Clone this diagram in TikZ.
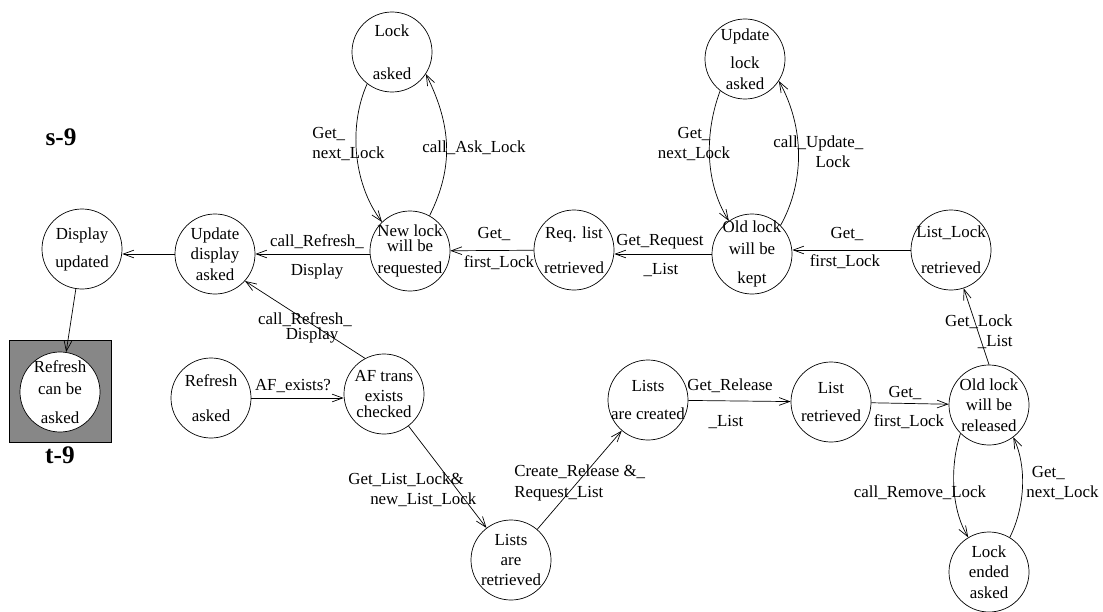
\documentclass[tikz,border=0pt]{standalone}
\usepackage{fontspec}
\setmainfont{Liberation Serif}
\usetikzlibrary{arrows.meta}
\begin{document}
\begin{tikzpicture}[x=0.025cm, y=-0.025cm, line width=0.5pt,
    font=\fontsize{12}{14.4}\selectfont,
    >={Straight Barb[length=7.5pt,width=5.5pt]},
    state/.style={circle, draw, minimum size=2cm, inner sep=-8pt, align=center},
    lbl/.style={inner sep=0pt, align=left},
    tag/.style={inner sep=0pt, font=\fontsize{18}{20}\selectfont\bfseries}]
\useasboundingbox (0,0) rectangle (1103,611);

% states
\node[state] (disp) at (82,249) {Display\\[5.5pt]updated};
\node[state] (upd) at (215,254) {Update\\display\\asked};
\node[state] (newl) at (410,251) {New lock\\[-3.5pt]will be\\[1.5pt]requested};
\node[state] (locka) at (392,52) {Lock\\[16pt]asked};
\node[state] (reql) at (574,250) {Req. list\\[10.5pt]retrieved};
\node[state] (oldk) at (752,254) {Old lock\\[1pt]will be\\[6pt]kept};
\node[state] (upda) at (745,59) {Update\\[6pt]lock\\asked};
\node[state] (listl) at (951,250) {List\_Lock\\[11pt]retrieved};
\node[draw, fill=black!47, minimum size=2.55cm] (tbox) at (60,391) {};
\node[state, fill=white] (refc) at (60,392) {Refresh\\[1pt]can be\\[6pt]asked};
\node[state] (refr) at (211,398) {Refresh\\[11pt]asked};
\node[state] (aft) at (384,394) {AF trans\\exists\\[-3.5pt]checked};
\node[state] (lret) at (511,560) {Lists\\are\\retrieved};
\node[state] (lcre) at (648,400) {Lists\\[6pt]are created};
\node[state] (lis) at (831,402) {List\\[6pt]retrieved};
\node[state] (oldr) at (989,405) {Old lock\\will be\\released};
\node[state] (locke) at (989,572) {Lock\\ended\\asked};

\node[tag] (s9) at (61,137) {s-9};
\node[tag] (t9) at (60,455) {t-9};

% transitions
\draw[->] (upd.west) -- (upd.west -| disp.east);
\draw[->] (newl.west |- upd.east) -- (upd.east);
\draw[->] (reql) -- (newl);
\draw[->] (oldk.west) -- (oldk.west -| reql.east);
\draw[->] (listl.west) -- (listl.west -| oldk.east);
\draw[->] (disp) -- (refc);
\draw[->] (aft.118) -- (upd.-42);
\draw[->] (refr.east) -- (refr.east -| aft.west);
\draw[->] (aft) -- (lret);
\draw[->] (lret) -- (lcre);
\draw[->] (lcre) -- (lis);
\draw[->] (lis) -- (oldr);
\draw[->] (oldr.north) -- (listl);
\draw[->] (newl.61) .. controls +(25,-50) and +(25,50) .. (locka.-33);
\draw[->] (locka.-128) .. controls +(-18,40) and +(-30,-40) .. (newl.134);
\draw[->] (oldk.45) .. controls +(25,-45) and +(25,45) .. (upda.-33);
\draw[->] (upda.-128) .. controls +(-15,40) and +(-25,-40) .. (oldk.125);
\draw[->] (oldr.-135) .. controls +(-10,30) and +(-18,-30) .. (locke.121);
\draw[->] (locke.59) .. controls +(15,-30) and +(14,30) .. (oldr.-53);

% labels
\node[lbl] (l1) at (317,242) {call\_Refresh\_};
\node[lbl] (l2) at (317,271) {Display};
\node[lbl] (l3) at (494,234) {Get\_};
\node[lbl] (l4) at (499,263) {first\_Lock};
\node[lbl] (l5) at (660,242) {Get\_Request};
\node[lbl] (l6) at (661,270) {\_List};
\node[lbl] (l7) at (847,234) {Get\_};
\node[lbl] (l8) at (845,262) {first\_Lock};
\node[lbl] (l9) at (293,386) {AF\_exists?};
\node[lbl] (l10) at (730,386) {Get\_Release};
\node[lbl] (l11) at (726,422) {\_List};
\node[lbl] (l12) at (905,393) {Get\_};
\node[lbl] (l13) at (909,422) {first\_Lock};
\node[lbl, anchor=west] (l14) at (312,144) {Get\_\\next\_Lock};
\node[lbl] (l15) at (474,148) {call\_Ask\_Lock};
\node[lbl, anchor=west] (l16) at (773,152) {call\_Update\_\\\hspace*{30pt}Lock};
\node[lbl, align=center] (l17) at (694,144) {Get\_\\next\_Lock};
\node[lbl, align=right, anchor=east] (l18) at (1013,332) {Get\_Lock\\\_List};
\node[lbl] (l19) at (920,493) {call\_Remove\_Lock};
\node[lbl, anchor=west] (l20) at (1026,483) {\hspace*{4pt}Get\_\\next\_Lock};
\node[lbl, anchor=west] (l21) at (348,490) {Get\_List\_Lock\&\\\hspace*{15.6pt}new\_List\_Lock};
\node[lbl, anchor=west] (l22) at (514,483) {Create\_Release \&\_\\Request\_List};
\node[lbl, align=center] (l23) at (305,328) {call\_Refresh\_\\[-3.5pt]\hspace*{10pt}Display};
\end{tikzpicture}
\end{document}
